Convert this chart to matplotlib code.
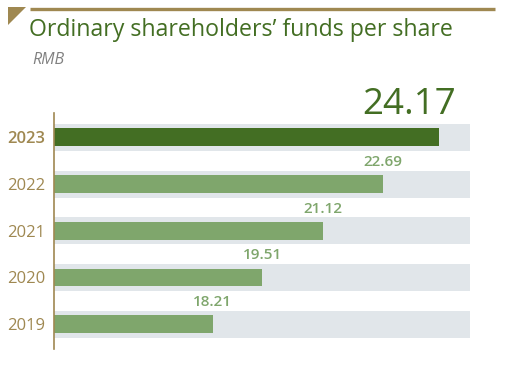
import matplotlib
matplotlib.use("Agg")
import matplotlib.pyplot as plt
from matplotlib.patches import Polygon
from matplotlib.lines import Line2D

years = ["2019", "2020", "2021", "2022", "2023"]
values = [18.21, 19.51, 21.12, 22.69, 24.17]
title = "Ordinary shareholders\u2019 funds per share"
unit = "RMB"

DARK = "#436e23"
LIGHT = "#7fa66c"
GRAY = "#e1e6ea"
GOLD = "#9f8851"
FONT = "Open Sans"

W, H = 512, 376
fig = plt.figure(figsize=(W / 100, H / 100), dpi=100)

def fx(px):
    return px / W

def fy(py):
    return 1 - py / H

# decorations
fig.add_artist(Line2D([fx(30), fx(495)], [fy(8.5), fy(8.5)], color=GOLD, lw=2.4,
                      transform=fig.transFigure, solid_capstyle="butt"))
fig.add_artist(Polygon([[fx(8), fy(7)], [fx(26), fy(7)], [fx(8), fy(25)]], closed=True,
                       color=GOLD, transform=fig.transFigure, lw=0))
fig.text(fx(29), fy(36), title, color=DARK, fontsize=16.7, family=FONT,
         ha="left", va="baseline")
fig.text(fx(32), fy(64), unit, color="#808080", fontsize=11.5, family=FONT,
         style="italic", ha="left", va="baseline")

ax = fig.add_axes([fx(53.5), fy(349), fx(470) - fx(53.5), fy(113) - fy(349)])
xmin, xmax = 14.0, 25.0
ax.set_xlim(xmin, xmax)
ax.set_ylim(-0.53, 4.52)
pos = list(range(len(years)))

ax.barh(pos, [xmax - xmin] * len(pos), left=xmin, height=0.578, color=GRAY, zorder=1)
colors = [LIGHT] * (len(values) - 1) + [DARK]
ax.barh(pos, [v - xmin for v in values], left=xmin, height=0.385, color=colors, zorder=2)

for i, v in enumerate(values):
    if i == len(values) - 1:
        ax.annotate(f"{v:.2f}", (v, i), xytext=(17, 14), textcoords="offset pixels",
                    ha="right", va="bottom", fontsize=26.5, color=DARK, family=FONT)
    else:
        ax.annotate(f"{v:.2f}", (v, i), xytext=(0, 15), textcoords="offset pixels",
                    ha="center", va="bottom", fontsize=11, fontweight="semibold",
                    color=LIGHT, family=FONT)

ax.set_yticks(pos)
ax.set_yticklabels(years)
for i, lab in enumerate(ax.get_yticklabels()):
    lab.set_color(GOLD)
    lab.set_fontsize(12)
    lab.set_family(FONT)
    if i == len(years) - 1:
        lab.set_fontweight("semibold")
ax.tick_params(axis="y", length=0, pad=6)
ax.set_xticks([])
for s in ["top", "right", "bottom"]:
    ax.spines[s].set_visible(False)
ax.spines["left"].set_color(GOLD)
ax.spines["left"].set_linewidth(1.2)

fig.savefig("out.png", dpi=100)
